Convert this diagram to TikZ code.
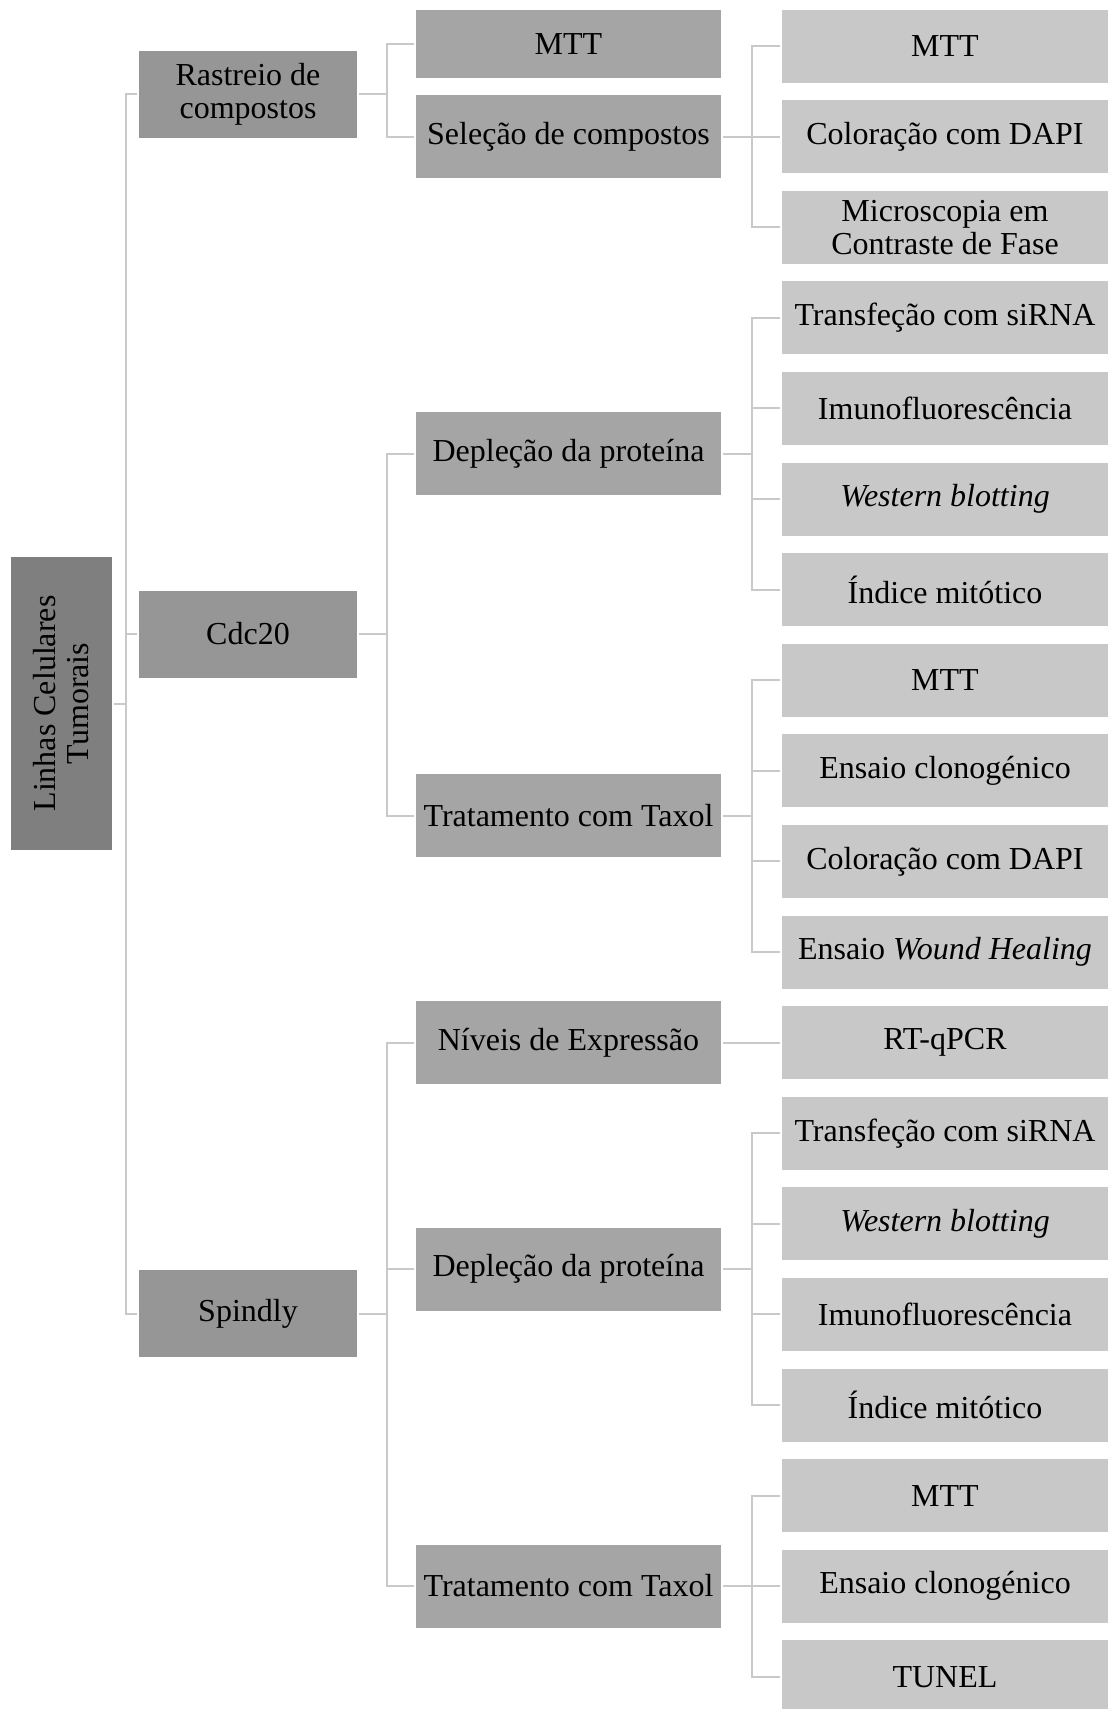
\documentclass[tikz,border=0pt]{standalone}
\usepackage{fontspec}
\setmainfont{Liberation Serif}

\definecolor{rootgray}{HTML}{7F7F7F}
\definecolor{lvlone}{HTML}{969696}
\definecolor{lvltwo}{HTML}{A5A5A5}
\definecolor{lvlthree}{HTML}{C8C8C8}
\definecolor{linegray}{HTML}{C9C9C9}

\tikzset{
    box/.style={inner sep=0pt, align=center, font=\fontsize{16}{16.5}\selectfont},
    rootbox/.style={box, fill=rootgray, minimum width=146.5pt, minimum height=50.5pt, rotate=90},
    onebox/.style={box, fill=lvlone, minimum width=109pt, minimum height=43.5pt},
    twobox/.style={box, fill=lvltwo, minimum width=152.5pt, minimum height=41.5pt},
    threebox/.style={box, fill=lvlthree, minimum width=163pt, minimum height=36.5pt},
    conn/.style={draw=linegray, line width=1pt, shorten <=1pt, shorten >=1pt}
}

\begin{document}
\begin{tikzpicture}[x=0.5pt,y=-0.5pt]
    \useasboundingbox (0,0) rectangle (1108,1709);

    %% root
    \node[rootbox] (root) at (61.5,703.5) {Linhas Celulares\\Tumorais};

    %% first level
    \node[onebox] (ras) at (248,94)  {Rastreio de\\compostos};
    \node[onebox] (cdc) at (248,634)   {Cdc20};
    \node[onebox] (spi) at (248,1313.5) {Spindly};

    %% second level
    \node[twobox, minimum height=34pt] (mtt) at (568.5,44) {MTT};
    \node[twobox] (sel)  at (568.5,136.5)  {Seleção de compostos};
    \node[twobox] (depc) at (568.5,453.5)  {Depleção da proteína};
    \node[twobox] (trac) at (568.5,815.5)  {Tratamento com Taxol};
    \node[twobox] (niv)  at (568.5,1042.6) {Níveis de Expressão};
    \node[twobox] (deps) at (568.5,1269)   {Depleção da proteína};
    \node[twobox] (tras) at (568.5,1586)   {Tratamento com Taxol};

    %% third level
    \foreach \nm/\txt [count=\i from 0] in {
        mttA/MTT, dapiA/Coloração com DAPI, micro/{Microscopia em\\Contraste de Fase},
        siA/Transfeção com siRNA, ifA/Imunofluorescência, wbA/\textit{Western blotting},
        imA/Índice mitótico, mttB/MTT, clonB/Ensaio clonogénico,
        dapiB/Coloração com DAPI, wound/{Ensaio \textit{Wound Healing}}, rtq/RT-qPCR,
        siC/Transfeção com siRNA, wbC/\textit{Western blotting}, ifC/Imunofluorescência,
        imC/Índice mitótico, mttD/MTT, clonD/Ensaio clonogénico, tunel/TUNEL}
        \node[threebox] (\nm) at (945,46+90.6*\i) {\txt};

    %% connectors
    \foreach \c in {ras,cdc,spi}
        \draw[conn] (root.south) -- ++(14,0) |- (\c.west);
    \foreach \c in {mtt,sel}
        \draw[conn] (ras.east) -- ++(30,0) |- (\c.west);
    \foreach \c in {depc,trac}
        \draw[conn] (cdc.east) -- ++(30,0) |- (\c.west);
    \foreach \c in {niv,deps,tras}
        \draw[conn] (spi.east) -- ++(30,0) |- (\c.west);
    \foreach \p/\kids in {sel/{mttA,dapiA,micro}, depc/{siA,ifA,wbA,imA},
                          trac/{mttB,clonB,dapiB,wound}, niv/{rtq},
                          deps/{siC,wbC,ifC,imC}, tras/{mttD,clonD,tunel}}
        \foreach \c in \kids
            \draw[conn] (\p.east) -- ++(31,0) |- (\c.west);
\end{tikzpicture}
\end{document}
